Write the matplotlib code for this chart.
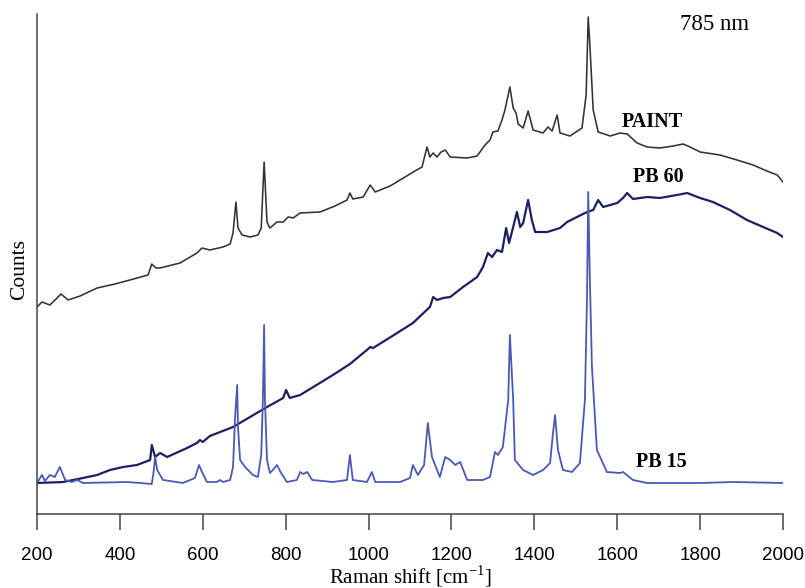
import matplotlib
matplotlib.use("Agg")
import matplotlib.pyplot as plt

# PAINT spectrum (black)
paint_x = [200, 212, 231, 246, 258, 275, 304, 345, 388, 424, 468, 477, 487, 497, 545, 586, 598, 617,
           649, 666, 673, 680, 685, 695, 714, 733, 741, 748, 755, 762, 779, 794, 806, 818, 835, 883,
           919, 948, 955, 962, 987, 1004, 1016, 1052, 1100, 1112, 1129, 1141, 1148, 1156, 1165, 1175,
           1185, 1197, 1238, 1262, 1281, 1293, 1300, 1312, 1322, 1329, 1341, 1349, 1356, 1361, 1373,
           1385, 1397, 1421, 1433, 1443, 1455, 1462, 1486, 1515, 1525, 1530, 1534, 1542, 1554, 1583,
           1607, 1624, 1648, 1672, 1703, 1735, 1759, 1776, 1800, 1848, 1889, 1928, 1961, 1986, 2000]
paint_y = [207, 212, 209, 215, 220, 214, 218, 226, 230, 234, 239, 250, 246, 246, 251, 261, 266, 264,
           267, 270, 281, 312, 286, 279, 277, 279, 286, 352, 292, 286, 292, 292, 297, 296, 301, 302,
           308, 314, 321, 315, 317, 329, 322, 328, 340, 343, 347, 367, 357, 361, 357, 362,
           364, 357, 356, 358, 369, 374, 382, 383, 394, 404, 427, 406, 401, 390, 386,
           403, 384, 381, 387, 383, 399, 381, 378, 386, 419, 497, 469, 404, 382, 378,
           381, 380, 371, 367, 366, 368, 370, 367, 362, 359, 354, 349, 343, 339, 332]

# PB 60 spectrum (navy)
pb60_x = [200, 263, 311, 345, 376, 408, 441, 473, 477, 485, 497, 514, 562, 586, 593, 600, 617, 673,
          714, 755, 794, 801, 810, 835, 914, 955, 996, 1004, 1011, 1069, 1107, 1148, 1156, 1165, 1180,
          1197, 1228, 1262, 1276, 1288, 1298, 1310, 1322, 1332, 1339, 1349, 1358, 1366, 1373, 1385,
          1394, 1402, 1431, 1462, 1479, 1503, 1527, 1542, 1554, 1566, 1600, 1614, 1624, 1638, 1672,
          1703, 1744, 1769, 1800, 1831, 1872, 1913, 1952, 1986, 2000]
pb60_y = [31, 32, 36, 39, 44, 47, 49, 54, 69, 57, 61, 57, 66, 71, 74, 72, 78, 87,
          97, 107, 116, 124, 116, 119, 139, 150, 164, 167, 166, 181, 191, 207, 217, 214, 216,
          217, 227, 237, 247, 261, 257, 264, 262, 286, 271, 287, 302, 287, 291, 314,
          294, 282, 282, 286, 292, 297, 302, 304, 314, 307, 311, 316, 321, 315, 317,
          316, 319, 321, 316, 312, 304, 294, 287, 281, 277]

# PB 15 spectrum (blue)
pb15_x = [200, 212, 219, 231, 243, 255, 268, 284, 297, 311, 417, 449, 477, 482, 485, 490, 504, 552,
          581, 591, 598, 610, 634, 642, 649, 666, 673, 678, 683, 685, 690, 702, 721, 733, 741, 745,
          748, 750, 755, 762, 769, 779, 789, 803, 827, 835, 842, 852, 864, 914, 948, 955, 962, 996,
          1008, 1016, 1076, 1100, 1107, 1119, 1134, 1143, 1153, 1172, 1185, 1197, 1209, 1221, 1238,
          1276, 1293, 1305, 1312, 1324, 1337, 1341, 1349, 1353, 1373, 1397, 1421, 1438, 1445, 1450,
          1457, 1469, 1491, 1510, 1522, 1527, 1530, 1534, 1539, 1551, 1575, 1607, 1614, 1638, 1672,
          1800, 1880, 2000]
pb15_y = [31, 39, 33, 39, 37, 47, 34, 32, 34, 31, 32, 31, 30, 44, 57, 44, 34, 31,
          36, 49, 42, 32, 32, 34, 32, 34, 47, 97, 129, 87, 54, 47, 39, 37, 59, 114,
          189, 114, 54, 41, 44, 49, 41, 32, 34, 42, 40, 42, 34, 32, 34, 59, 34, 32,
          42, 32, 32, 36, 49, 39, 49, 91, 57, 37, 57, 54, 49, 52, 34,
          34, 37, 62, 59, 67, 114, 179, 114, 54, 44, 39, 44, 51, 81, 99,
          64, 44, 42, 51, 114, 214, 322, 234, 147, 64, 42, 41, 42, 34, 31,
          31, 32, 31]

xticks = [200, 400, 600, 800, 1000, 1200, 1400, 1600, 1800, 2000]

plt.rcParams['mathtext.fontset'] = 'custom'
plt.rcParams['mathtext.rm'] = 'Liberation Serif'

fig = plt.figure(figsize=(8.05, 5.88), dpi=100)
ax = fig.add_axes([37/805, 74/588, 746/805, 500/588])

ax.plot(pb60_x, pb60_y, color='#1c2060', lw=1.6)
ax.plot(pb15_x, pb15_y, color='#4a5ab4', lw=1.3)
ax.plot(paint_x, paint_y, color='#333333', lw=1.15)

ax.set_xlim(200, 2000)
ax.set_ylim(0, 500)
ax.set_xticks(xticks)
ax.set_xticklabels([str(t) for t in xticks], fontfamily='Liberation Sans', fontsize=13.5)
ax.set_yticks([])
ax.tick_params(axis='x', direction='out', length=11.5, width=1.1, color='#444444', pad=12)
for s in ['top', 'right']:
    ax.spines[s].set_visible(False)
for s in ['left', 'bottom']:
    ax.spines[s].set_color('#444444')
    ax.spines[s].set_linewidth(1.1)

fig.text(410/805, 1 - 576/588, r'Raman shift [cm$^{\mathrm{-1}}$]', ha='center', va='center',
         fontfamily='Liberation Serif', fontsize=15)
fig.text(20/805, 1 - 270/588, 'Counts', rotation=90, ha='center', va='center',
         fontfamily='Liberation Serif', fontsize=15.5)

ax.text(1836, 489, '785 nm', ha='center', va='center', fontfamily='Liberation Serif', fontsize=16.5)
ax.text(1684, 392, 'PAINT', ha='center', va='center', fontfamily='Liberation Serif',
        fontweight='bold', fontsize=14.5)
ax.text(1698, 337, 'PB 60', ha='center', va='center', fontfamily='Liberation Serif',
        fontweight='bold', fontsize=14.5)
ax.text(1706, 52, 'PB 15', ha='center', va='center', fontfamily='Liberation Serif',
        fontweight='bold', fontsize=14.5)

fig.savefig('out.png', dpi=100)
